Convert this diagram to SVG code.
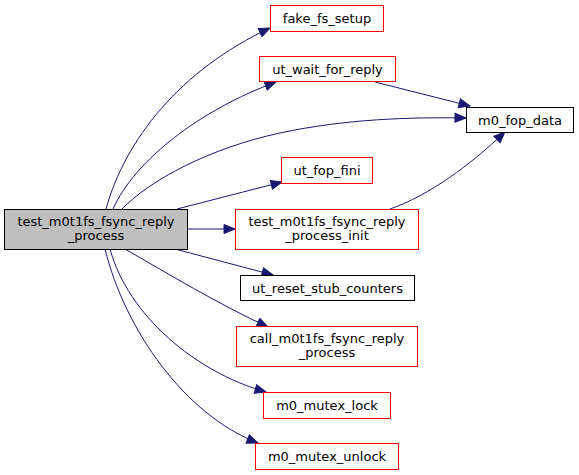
<svg xmlns="http://www.w3.org/2000/svg" width="579" height="475" viewBox="0 0 579 475">
<style>
.n rect{fill:#fff;stroke:#ff0000;stroke-width:1}
.n.b rect{stroke:#000}
.n.m rect{fill:#bfbfbf;stroke:#000}
text{font-family:"DejaVu Sans",sans-serif;font-size:13px;fill:#000;text-anchor:middle}
.e path{fill:none;stroke:#191970;stroke-width:1;marker-end:url(#a)}
</style>
<defs>
<marker id="a" markerWidth="13" markerHeight="11" refX="11" refY="4.5" orient="auto" markerUnits="userSpaceOnUse" overflow="visible">
<path d="M0,0 L11,4.5 L0,9 z" fill="#191970" stroke="#191970"/>
</marker>
</defs>
<g class="e">
<path d="M106,209 C125,140 180,70 270,28"/>
<path d="M113,209 C135,160 200,110 276,82"/>
<path d="M122,209 C150,180 210,148 280,133 C345,119 410,117 466,118"/>
<path d="M177,209 L282,182"/>
<path d="M188,229 L235,229"/>
<path d="M175,249 L273,275"/>
<path d="M125,249 C165,272 220,305 268,327"/>
<path d="M110,249 C128,315 195,372 266,392"/>
<path d="M105,249 C125,330 185,415 258,443"/>
<path d="M375,82 L470,106"/>
<path d="M390,209 C430,195 470,165 505,132"/>
</g>
<g id="main" class="n m"><rect x="4.5" y="209.5" width="183" height="40"/><text x="96" y="226">test_m0t1fs_fsync_reply</text><text x="96" y="240">_process</text></g>
<g id="fake_fs_setup" class="n"><rect x="270.5" y="5.5" width="113" height="26"/><text x="327" y="22.5">fake_fs_setup</text></g>
<g id="ut_wait_for_reply" class="n"><rect x="259.5" y="56.5" width="136" height="25"/><text x="327.5" y="73.5">ut_wait_for_reply</text></g>
<g id="m0_fop_data" class="n b"><rect x="466.5" y="107.5" width="107" height="25"/><text x="520" y="124.5">m0_fop_data</text></g>
<g id="ut_fop_fini" class="n"><rect x="281.5" y="157.5" width="91" height="26"/><text x="327" y="174.5">ut_fop_fini</text></g>
<g id="test_init" class="n"><rect x="235.5" y="209.5" width="183" height="40"/><text x="327" y="226">test_m0t1fs_fsync_reply</text><text x="327" y="240">_process_init</text></g>
<g id="ut_reset_stub_counters" class="n b"><rect x="240.5" y="275.5" width="174" height="25"/><text x="327.5" y="292.5">ut_reset_stub_counters</text></g>
<g id="call" class="n"><rect x="236.5" y="326.5" width="181" height="40"/><text x="327" y="343">call_m0t1fs_fsync_reply</text><text x="327" y="357">_process</text></g>
<g id="m0_mutex_lock" class="n"><rect x="263.5" y="392.5" width="127" height="26"/><text x="327" y="409.5">m0_mutex_lock</text></g>
<g id="m0_mutex_unlock" class="n"><rect x="255.5" y="443.5" width="143" height="26"/><text x="327" y="460.5">m0_mutex_unlock</text></g>
</svg>
